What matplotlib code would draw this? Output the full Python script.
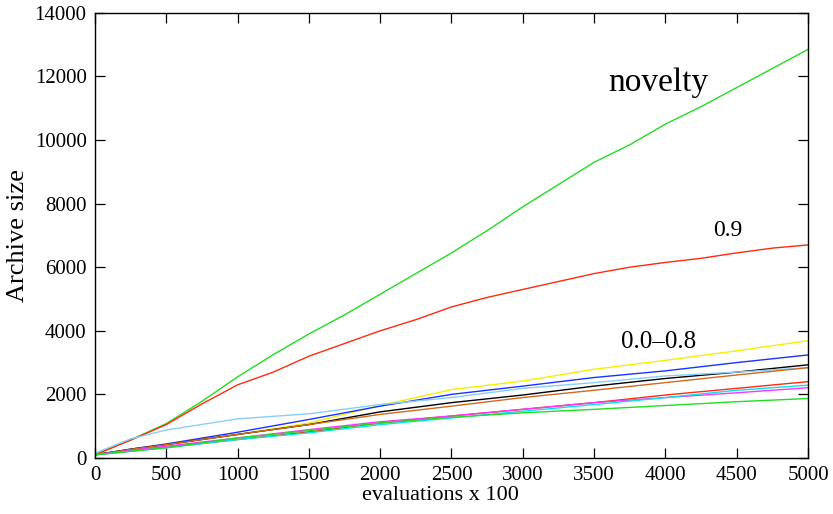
import matplotlib
matplotlib.use("Agg")
import matplotlib.pyplot as plt

plt.rcParams['font.family'] = ['Liberation Serif', 'DejaVu Serif']

x_fine = [0, 250, 500, 750, 1000, 1250, 1500, 1750, 2000, 2250, 2500, 2750,
          3000, 3250, 3500, 3750, 4000, 4250, 4500, 4750, 5000]
novelty = [100, 570, 1080, 1780, 2550, 3250, 3900, 4500, 5150, 5800, 6450, 7150,
           7900, 8600, 9300, 9850, 10500, 11050, 11650, 12250, 12850]
p09 = [100, 560, 1050, 1700, 2300, 2700, 3200, 3600, 4000, 4350, 4750, 5050,
       5300, 5550, 5800, 6000, 6150, 6280, 6450, 6600, 6700]

x_coarse = [0, 250, 500, 1000, 1500, 2000, 2500, 3000, 3500, 4000, 4500, 5000]
low_series = {
    'yellow':    [100, 280, 440, 740, 1100, 1650, 2150, 2420, 2790, 3070, 3370, 3690],
    'blue':      [100, 280, 440, 810, 1210, 1630, 2000, 2260, 2530, 2740, 3000, 3240],
    'black':     [100, 270, 420, 740, 1050, 1450, 1740, 1980, 2260, 2500, 2700, 2930],
    'lightblue': [150, 600, 880, 1230, 1390, 1680, 1900, 2190, 2370, 2580, 2700, 2840],
    'orange':    [100, 270, 420, 740, 1050, 1370, 1630, 1900, 2130, 2370, 2610, 2840],
    'red':       [100, 220, 340, 580, 820, 1100, 1320, 1530, 1740, 1980, 2190, 2400],
    'magenta':   [100, 240, 370, 630, 890, 1140, 1320, 1530, 1740, 1900, 2050, 2210],
    'cyan':      [100, 210, 320, 580, 790, 1050, 1260, 1470, 1680, 1900, 2130, 2290],
    'green':     [100, 210, 320, 630, 860, 1100, 1280, 1420, 1530, 1650, 1770, 1870],
}
low_colors = {
    'yellow': '#f5f000', 'blue': '#1a33ff', 'black': '#000000',
    'lightblue': '#87cefa', 'orange': '#d2691e', 'red': '#ff2a10',
    'magenta': '#ff33ff', 'cyan': '#00e5ee', 'green': '#22dd22',
}

x_ticks = [0, 500, 1000, 1500, 2000, 2500, 3000, 3500, 4000, 4500, 5000]
y_ticks = [0, 2000, 4000, 6000, 8000, 10000, 12000, 14000]

fig = plt.figure(figsize=(8.33, 5.14), dpi=100)
ax = fig.add_axes([0.114, 0.109, 0.856, 0.866])

ax.plot(x_fine, novelty, color='#22dd22', lw=1.0)
ax.plot(x_fine, p09, color='#ff2a10', lw=1.0)
for name, vals in low_series.items():
    ax.plot(x_coarse, vals, color=low_colors[name], lw=1.0)

ax.set_xlim(0, 5000)
ax.set_ylim(0, 14000)
ax.set_xticks(x_ticks)
ax.set_yticks(y_ticks)
ax.tick_params(direction='in', top=True, right=True, length=7, width=0.9,
               labelsize=15, pad=6)
for s in ax.spines.values():
    s.set_linewidth(1.0)

ax.set_xlabel('evaluations x 100', fontsize=16, labelpad=1)
ax.xaxis.set_label_coords(0.485, -0.062)
ax.set_ylabel('Archive size', fontsize=19, labelpad=4)

ax.text(3950, 11800, 'novelty', fontsize=24, ha='center', va='center')
ax.text(4440, 7150, '0.9', fontsize=17, ha='center', va='center')
ax.text(3950, 3650, '0.0\u20130.8', fontsize=18, ha='center', va='center')

fig.savefig('out.png', dpi=100)
